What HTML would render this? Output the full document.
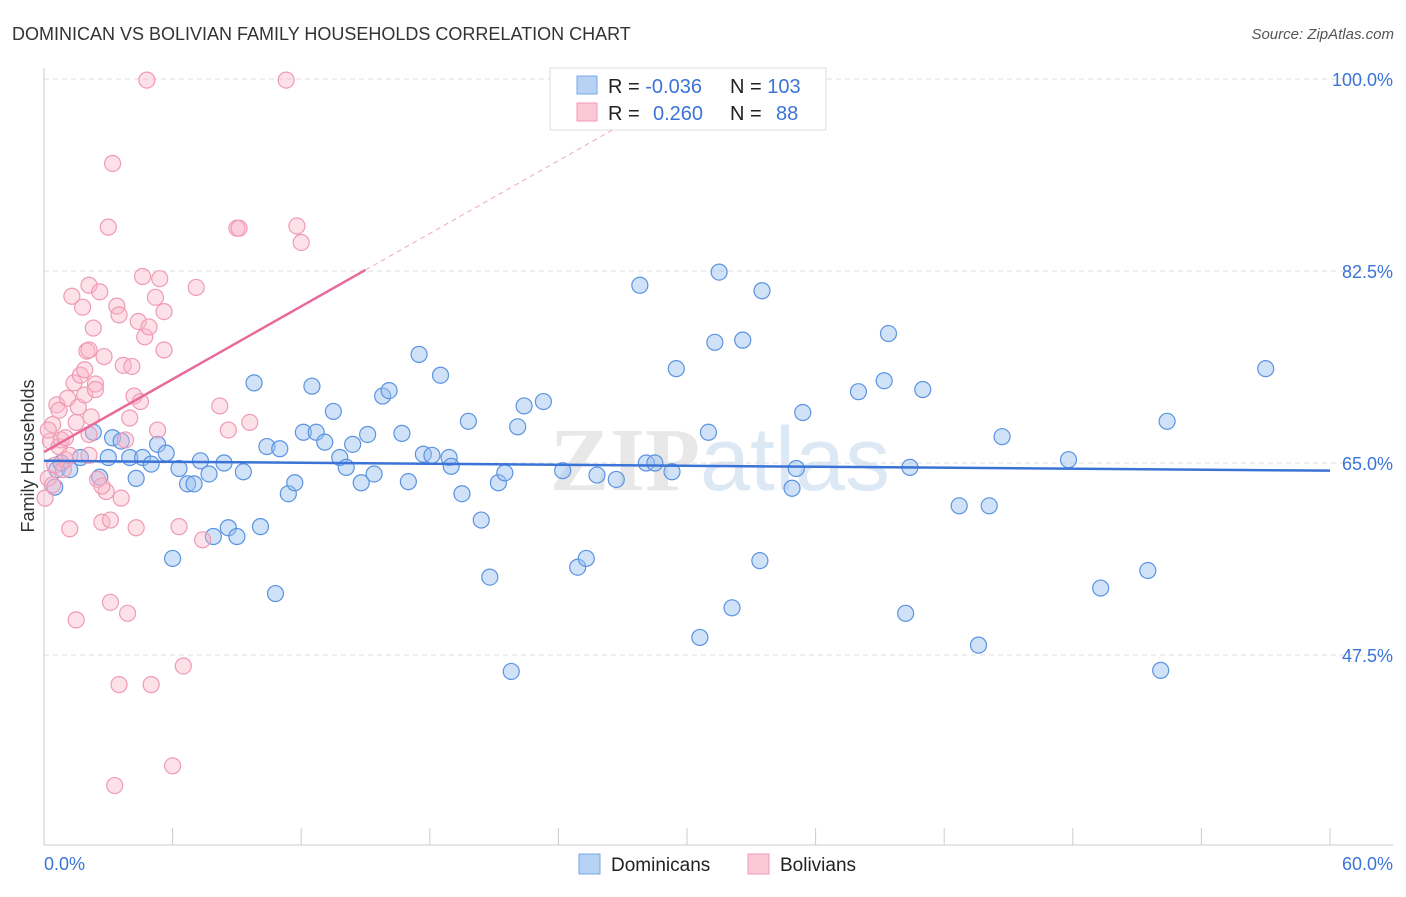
<!DOCTYPE html>
<html><head><meta charset="utf-8"><style>
body{margin:0;background:#fff;font-family:"Liberation Sans",sans-serif;}
</style></head><body>
<svg id="chart" width="1406" height="892" xmlns="http://www.w3.org/2000/svg" font-family="Liberation Sans, sans-serif">
<text x="12" y="40" font-size="18" fill="#333">DOMINICAN VS BOLIVIAN FAMILY HOUSEHOLDS CORRELATION CHART</text>
<text x="1394" y="39" font-size="15" fill="#555" text-anchor="end" font-style="italic">Source: ZipAtlas.com</text>
<text x="720" y="490" font-size="90" fill="#e8e8e8" text-anchor="middle" font-family="Liberation Serif, serif" font-weight="bold">ZIP<tspan fill="#dde8f5" font-family="Liberation Sans, sans-serif" font-weight="normal">atlas</tspan></text>
<g id="grid"></g>
<g id="axes"></g>
<g id="pts"></g>
<g id="trend"></g>
<text transform="translate(34,456) rotate(-90)" font-size="18" fill="#333" text-anchor="middle">Family Households</text>
<g>
<rect x="550" y="68" width="276" height="62" fill="#fff" stroke="#ddd"/>
<rect x="577" y="76" width="20" height="18" fill="#b8d2f5" stroke="#7aaae8"/>
<rect x="577" y="103" width="20" height="18" fill="#fcc8d8" stroke="#f09ab5"/>
<text x="608" y="93" font-size="20" fill="#222">R = <tspan fill="#3b74d6">-0.036</tspan></text>
<text x="730" y="93" font-size="20" fill="#222">N = <tspan fill="#3b74d6">103</tspan></text>
<text x="608" y="120" font-size="20" fill="#222">R = <tspan fill="#3b74d6" x="653">0.260</tspan></text>
<text x="730" y="120" font-size="20" fill="#222">N = <tspan fill="#3b74d6" x="776">88</tspan></text>
</g>
<g>
<rect x="579" y="854" width="21" height="20" fill="#b8d2f5" stroke="#7aaae8"/>
<text x="611" y="871" font-size="19" fill="#222">Dominicans</text>
<rect x="748" y="854" width="21" height="20" fill="#fcc8d8" stroke="#f09ab5"/>
<text x="780" y="871" font-size="19" fill="#222">Bolivians</text>
</g>
</svg>
<script>
const yTicks=[100,82.5,65,47.5];
const yTickLabels=["100.0%","82.5%","65.0%","47.5%"];
const xTickLabels=["0.0%","60.0%"];
const blueX=[0.5,0.6,0.8,1.2,1.7,2.3,2.6,3.0,3.2,3.6,4.0,4.3,4.6,5.0,5.3,5.7,6.0,6.3,6.7,7.0,7.3,7.7,7.9,8.4,8.6,9.0,9.3,9.8,10.1,10.4,10.8,11.0,11.4,11.7,12.1,12.5,12.7,13.1,13.5,13.8,14.1,14.4,14.8,15.1,15.4,15.8,16.1,16.7,17.0,17.5,17.7,18.1,18.5,18.9,19.0,19.5,19.8,20.4,20.8,21.2,21.5,21.8,22.1,22.4,23.3,24.2,24.9,25.3,25.8,26.7,27.8,28.1,28.5,29.3,29.5,30.6,31.0,31.3,31.5,32.1,32.6,33.4,33.5,34.9,35.1,35.4,38.0,39.2,39.4,40.2,40.4,41.0,42.7,43.6,44.1,44.7,47.8,49.3,51.5,52.1,52.4,57.0];
const blueY=[62.8,64.4,65.0,64.4,65.5,67.8,63.7,65.5,67.3,67.0,65.5,63.6,65.5,64.9,66.7,65.9,56.3,64.5,63.1,63.1,65.2,64.0,58.3,65.0,59.1,58.3,64.2,72.3,59.2,66.5,53.1,66.3,62.2,63.2,67.8,72.0,67.8,66.9,69.7,65.5,64.6,66.7,63.2,67.6,64.0,71.1,71.6,67.7,63.3,74.9,65.8,65.7,73.0,65.5,64.7,62.2,68.8,59.8,54.6,63.2,64.1,46.0,68.3,70.2,70.6,64.3,55.5,56.3,63.9,63.5,81.2,65.0,65.0,64.2,73.6,49.1,67.8,76.0,82.4,51.8,76.2,56.1,80.7,62.7,64.5,69.6,71.5,72.5,76.8,51.3,64.6,71.7,61.1,48.4,61.1,67.4,65.3,53.6,55.2,46.1,68.8,73.6];
const pinkX=[0.05,0.2,0.3,0.4,0.5,0.6,0.7,0.8,0.9,1.0,1.1,1.2,1.3,1.4,1.5,1.6,1.7,1.8,1.9,2.0,2.1,2.1,2.2,2.3,2.4,2.5,2.6,2.7,2.8,2.9,3.0,3.1,3.2,3.4,3.5,3.5,3.6,3.7,3.9,4.0,4.1,4.2,4.3,4.4,4.5,4.6,4.7,4.8,4.9,5.0,5.2,5.3,5.4,5.6,5.6,6.0,6.3,6.5,7.1,7.4,8.2,8.6,9.0,9.1,9.6,11.3,11.8,12.0,3.3,1.0,2.1,3.1,3.8,0.7,1.2,1.9,2.4,0.4,0.2,2.7,1.5,2.1];
const pinkY=[61.8,63.6,67.0,68.5,64.8,70.3,66.5,67.1,64.4,67.3,70.9,59.0,80.2,72.3,50.7,70.1,73.0,79.2,71.2,75.2,81.2,67.6,69.2,77.3,72.2,63.5,80.6,59.6,74.7,62.4,86.5,52.3,92.3,79.3,78.5,44.8,61.8,73.9,51.3,69.1,73.8,71.1,59.1,77.9,70.6,82.0,76.5,99.9,77.4,44.8,80.1,68.0,81.8,78.8,75.3,37.4,59.2,46.5,81.0,58.0,70.2,68.0,86.4,86.4,68.7,99.9,86.6,85.1,35.6,65.3,65.7,59.8,67.1,69.8,65.7,73.5,71.7,63.0,68.0,62.9,68.7,75.3];
const blueTrend=[65.2,64.3];
const pinkTrend=[66.0,82.6];

const NS="http://www.w3.org/2000/svg";
const X=v=>44+v/60*1286;
const Y=v=>463-(v-65)/17.5*192;
function mk(tag,attrs,parent){const e=document.createElementNS(NS,tag);for(const k in attrs)e.setAttribute(k,attrs[k]);parent.appendChild(e);return e;}
const grid=document.getElementById('grid'),axes=document.getElementById('axes'),pts=document.getElementById('pts'),tr=document.getElementById('trend');
yTicks.forEach((t,i)=>{
 const l=mk('line',{x1:44,x2:1393,y1:Y(t),y2:Y(t),stroke:'#ddd','stroke-dasharray':'5,4'},grid);
 
 
 const tx=mk('text',{x:1393,y:Y(t)+7,'font-size':18,fill:'#3b74d6','text-anchor':'end'},axes);
 tx.textContent=yTickLabels[i];
 
 
});
mk('line',{x1:44,x2:44,y1:68,y2:845,stroke:'#ccc'},axes);
mk('line',{x1:44,x2:1393,y1:845,y2:845,stroke:'#ccc'},axes);
for(let i=0;i<=10;i++){const l=mk('line',{x1:X(i*6),x2:X(i*6),y1:828,y2:845,stroke:'#ccc'},axes);
 
 }
const xl0=mk('text',{x:44,y:870,'font-size':18,fill:'#3b74d6'},axes);xl0.textContent=xTickLabels[0];


const xl1=mk('text',{x:1393,y:870,'font-size':18,fill:'#3b74d6','text-anchor':'end'},axes);xl1.textContent=xTickLabels[1];


blueX.forEach((v,i)=>{const c=mk('circle',{cx:X(v),cy:Y(blueY[i]),r:8,fill:'rgba(150,190,240,0.45)',stroke:'#5b93e0','stroke-width':1.2},pts);
 
 });
pinkX.forEach((v,i)=>{const c=mk('circle',{cx:X(v),cy:Y(pinkY[i]),r:8,fill:'rgba(250,180,200,0.4)',stroke:'#f09ab5','stroke-width':1.2},pts);
 
 });
const bl=mk('line',{x1:X(0),y1:Y(blueTrend[0]),x2:X(60),y2:Y(blueTrend[1]),stroke:'#3b74d6','stroke-width':2.5},tr);


const slope=(pinkTrend[1]-pinkTrend[0])/15;
const xEnd=(100-pinkTrend[0])/slope;
const pl=mk('line',{x1:X(0),y1:Y(pinkTrend[0]),x2:X(15),y2:Y(pinkTrend[1]),stroke:'#e8699a','stroke-width':2.5},tr);


const pd=mk('line',{x1:X(15),y1:Y(pinkTrend[1]),x2:X(xEnd),y2:Y(100),stroke:'#f0a8c0','stroke-width':1,'stroke-dasharray':'5,4'},tr);


</script>
</body></html>
